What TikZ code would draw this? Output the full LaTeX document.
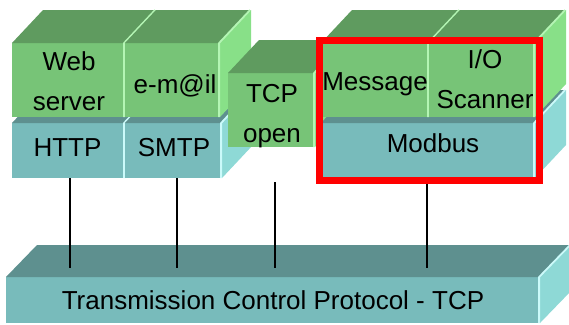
\documentclass[tikz,border=0pt]{standalone}
\usepackage{fontspec}
\setmainfont{Liberation Sans}
\usetikzlibrary{calc}

\definecolor{gfront}{HTML}{77C477}
\definecolor{gtop}{HTML}{5F9B5F}
\definecolor{gside}{HTML}{88E088}
\definecolor{glight}{HTML}{B4F5B4}
\definecolor{tfront}{HTML}{78BBBB}
\definecolor{ttop}{HTML}{5E908F}
\definecolor{tside}{HTML}{8ED9D6}
\definecolor{tlight}{HTML}{CBFAFA}
\definecolor{selred}{HTML}{FF0000}

% top face, right face and light edge of a block whose front face is node #1
% #2 top colour, #3 side colour, #4 edge colour, (#5,#6) depth offset
\newcommand\blockfaces[6]{%
  \fill[#2] (#1.north west) -- ++(#5,#6) -- ([shift={(#5,#6)}]#1.north east) -- (#1.north east) -- cycle;
  \fill[#3] (#1.north east) -- ([shift={(#5,#6)}]#1.north east) -- ([shift={(#5,#6)}]#1.south east) -- (#1.south east) -- cycle;
  \draw[#4, line width=1.8pt, line join=round]
    ([xshift=-0.9pt]#1.south east) -- ([xshift=-0.9pt]#1.north east) -- ([shift={(#5,#6)},xshift=-0.9pt]#1.north east);
}

\begin{document}
\begin{tikzpicture}[x=1pt, y=-1pt,
  face/.style={inner sep=0pt, outer sep=0pt},
  gface/.style={face, fill=gfront},
  tface/.style={face, fill=tfront},
  lbl/.style={font=\fontsize{26}{40}\selectfont, inner sep=0pt, align=center, text=black},
  link/.style={line width=2.3pt, black},
]
\useasboundingbox (0,0) rectangle (569,324);
\clip (0,0) rectangle (569,324);

% transport layer bar
\node[tface, minimum width=534pt, minimum height=46pt] (bar) at (273,300) {};
\blockfaces{bar}{ttop}{tside}{tlight}{31}{-32}
\node[lbl, anchor=base] (barlbl) at (273,309) {Transmission Control Protocol - TCP};

% protocol blocks (lower row)
\node[tface, minimum width=113pt, minimum height=55pt] (http) at (68.5,150.5) {};
\blockfaces{http}{ttop}{tside}{tlight}{31}{-33}
\node[tface, minimum width=97pt, minimum height=55pt] (smtp) at (173.5,150.5) {};
\blockfaces{smtp}{ttop}{tside}{tlight}{31}{-33}

% application blocks (upper row)
\node[gface, minimum width=113pt, minimum height=74pt] (web) at (68.5,80) {};
\blockfaces{web}{gtop}{gside}{glight}{31}{-33}
\node[gface, minimum width=95pt, minimum height=74pt] (mail) at (172.5,80) {};
\blockfaces{mail}{gtop}{gside}{glight}{31}{-33}

\node[gface, minimum width=87pt, minimum height=74pt] (tcpo) at (271.5,110) {};
\blockfaces{tcpo}{gtop}{gside}{glight}{31}{-33}

% Modbus stack
\node[tface, minimum width=214pt, minimum height=55pt] (modbus) at (428,150.5) {};
\blockfaces{modbus}{ttop}{tside}{tlight}{31}{-33}
\node[gface, minimum width=108pt, minimum height=74pt] (msg) at (375,80) {};
\blockfaces{msg}{gtop}{gside}{glight}{31}{-33}
\node[gface, minimum width=106pt, minimum height=74pt] (ios) at (482,80) {};
\blockfaces{ios}{gtop}{gside}{glight}{31}{-33}

% labels (base anchor = baseline of the last line)
\node[lbl, anchor=base] (weblbl) at (69,110) {Web\\server};
\node[lbl, anchor=base] (maillbl) at (175,93) {e-m@il};
\node[lbl, anchor=base] (httplbl) at (67.5,156) {HTTP};
\node[lbl, anchor=base] (smtplbl) at (174,156) {SMTP};
\node[lbl, anchor=base] (tcpolbl) at (272,142) {TCP\\open};
\node[lbl, anchor=base] (msglbl) at (375,90) {Message};
\node[lbl, anchor=base] (ioslbl) at (485,108) {I/O\\Scanner};
\node[lbl, anchor=base] (modbuslbl) at (433,152) {Modbus};

% links down to the transport layer
\coordinate (bus1) at (70,268);
\coordinate (bus2) at (177,268);
\coordinate (bus3) at (275,268);
\coordinate (bus4) at (427,268);
\draw[link] (http.south -| bus1) -- (bus1);
\draw[link] (smtp.south -| bus2) -- (bus2);
\draw[link, shorten <=35pt] (tcpo.south -| bus3) -- (bus3);
\draw[link] (modbus.south -| bus4) -- (bus4);

% highlight frame around the Modbus stack
\node[draw=selred, line width=7pt, inner sep=0pt, minimum width=220pt, minimum height=140pt] (sel) at (429.5,110.5) {};
\end{tikzpicture}
\end{document}
